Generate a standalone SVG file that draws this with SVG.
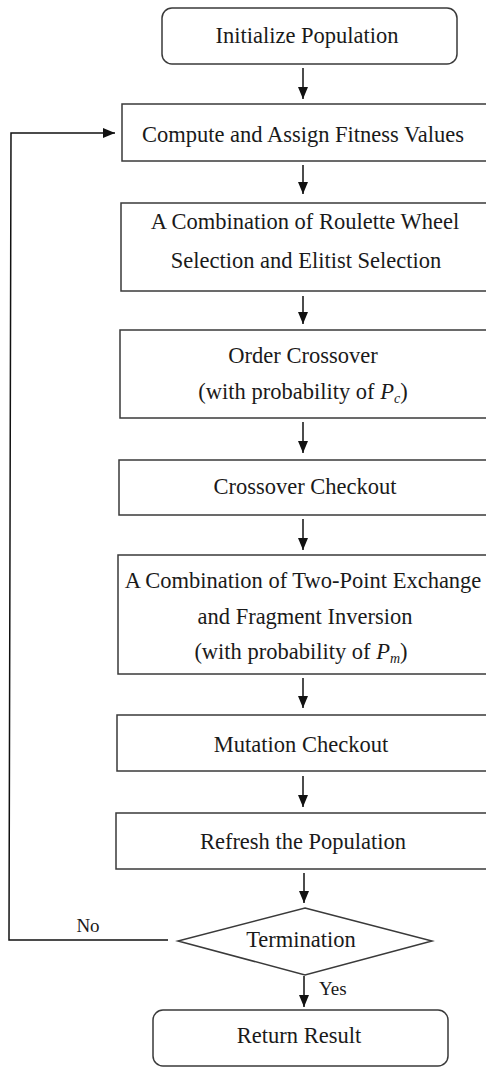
<svg xmlns="http://www.w3.org/2000/svg" width="486" height="1068" viewBox="0 0 486 1068">
  <defs>
    <marker id="arrow" viewBox="0 0 12 10" refX="12" refY="5" markerWidth="12" markerHeight="10" markerUnits="userSpaceOnUse" orient="auto">
      <path d="M0,0 L12,5 L0,10 z" fill="#111"/>
    </marker>
    <style>
      .box { fill: #fff; stroke: #3a3a3a; stroke-width: 1.5; }
      .lbl { font-family: 'Liberation Serif', 'Times New Roman', serif; font-size: 22.5px; fill: #1a1a1a; text-anchor: middle; }
      .small { font-family: 'Liberation Serif', 'Times New Roman', serif; font-size: 19px; fill: #1a1a1a; }
      .it { font-style: italic; }
      .sub { font-style: italic; font-size: 14px; }
      .conn { fill: none; stroke: #111; stroke-width: 1.5; }
    </style>
  </defs>
  <rect width="486" height="1068" fill="#fff"/>

  <!-- connectors -->
  <g id="connectors">
    <line class="conn" x1="303" y1="68" x2="303" y2="99" marker-end="url(#arrow)"/>
    <line class="conn" x1="303" y1="165" x2="303" y2="194" marker-end="url(#arrow)"/>
    <line class="conn" x1="303" y1="296" x2="303" y2="324" marker-end="url(#arrow)"/>
    <line class="conn" x1="303" y1="422" x2="303" y2="453" marker-end="url(#arrow)"/>
    <line class="conn" x1="303" y1="519" x2="303" y2="550" marker-end="url(#arrow)"/>
    <line class="conn" x1="303" y1="678" x2="303" y2="708" marker-end="url(#arrow)"/>
    <line class="conn" x1="303" y1="776" x2="303" y2="807" marker-end="url(#arrow)"/>
    <line class="conn" x1="304" y1="873" x2="304" y2="903" marker-end="url(#arrow)"/>
    <line class="conn" x1="304" y1="976" x2="304" y2="1007" marker-end="url(#arrow)"/>
    <!-- loop back on "No" -->
    <polyline class="conn" points="168,940 9,940 11,133 115,133" marker-end="url(#arrow)"/>
    <text class="small" x="88" y="932" text-anchor="middle">No</text>
    <text class="small" x="319" y="995">Yes</text>
  </g>

  <g id="init">
    <rect class="box" x="162" y="8" width="295" height="56" rx="10" ry="10"/>
    <text class="lbl" x="307" y="43">Initialize Population</text>
  </g>

  <g id="fitness">
    <rect class="box" x="122" y="104" width="372" height="57"/>
    <text class="lbl" x="303" y="142">Compute and Assign Fitness Values</text>
  </g>

  <g id="selection">
    <rect class="box" x="121" y="203" width="372" height="88"/>
    <text class="lbl" x="305" y="229">A Combination of Roulette Wheel</text>
    <text class="lbl" x="306" y="268">Selection and Elitist Selection</text>
  </g>

  <g id="crossover">
    <rect class="box" x="120" y="330" width="374" height="88"/>
    <text class="lbl" x="303" y="363">Order Crossover</text>
    <text class="lbl" x="303" y="399">(with probability of <tspan class="it">P</tspan><tspan class="sub" dy="4">c</tspan><tspan dy="-4">)</tspan></text>
  </g>

  <g id="crossover-check">
    <rect class="box" x="119" y="460" width="375" height="55"/>
    <text class="lbl" x="305" y="494">Crossover Checkout</text>
  </g>

  <g id="mutation">
    <rect class="box" x="118" y="555" width="376" height="119"/>
    <text class="lbl" x="303" y="588">A Combination of Two-Point Exchange</text>
    <text class="lbl" x="305" y="624">and Fragment Inversion</text>
    <text class="lbl" x="301" y="659">(with probability of <tspan class="it">P</tspan><tspan class="sub" dy="4">m</tspan><tspan dy="-4">)</tspan></text>
  </g>

  <g id="mutation-check">
    <rect class="box" x="117" y="715" width="377" height="56"/>
    <text class="lbl" x="301" y="752">Mutation Checkout</text>
  </g>

  <g id="refresh">
    <rect class="box" x="116" y="813" width="378" height="56"/>
    <text class="lbl" x="303" y="849">Refresh the Population</text>
  </g>

  <g id="termination">
    <polygon class="box" points="305,908 432,941 305,975 178,941"/>
    <text class="lbl" x="301" y="947">Termination</text>
  </g>

  <g id="result">
    <rect class="box" x="153" y="1010" width="295" height="56" rx="10" ry="10"/>
    <text class="lbl" x="299" y="1043">Return Result</text>
  </g>
</svg>
